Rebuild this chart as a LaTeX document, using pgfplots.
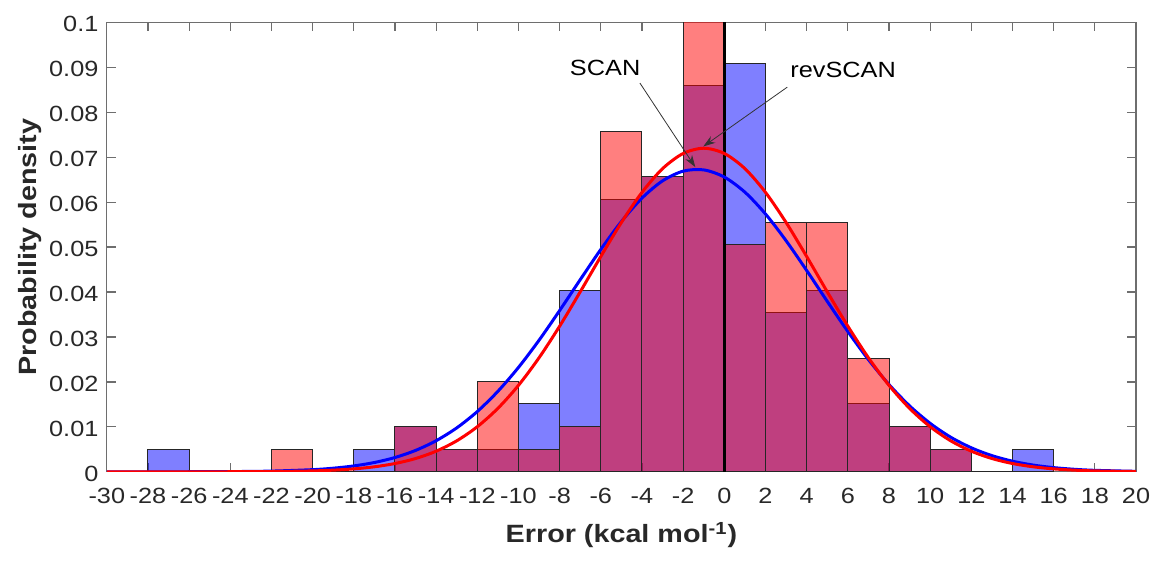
\documentclass[border=0pt]{standalone}
\usepackage{fontspec}
\setmainfont{Liberation Sans}[FakeStretch=1.15]
\usepackage{pgfplots}
\pgfplotsset{compat=1.18}
\usetikzlibrary{arrows.meta}
\definecolor{axgray}{RGB}{110,110,110}
\definecolor{txtgray}{RGB}{40,40,40}

\begin{document}
\begin{tikzpicture}
\begin{axis}[
  name=ax,
  scale only axis,
  width=514.6pt, height=224.7pt,
  xmin=-30, xmax=20, ymin=0, ymax=0.1,
  xtick={-30,-28,-26,-24,-22,-20,-18,-16,-14,-12,-10,-8,-6,-4,-2,0,2,4,6,8,10,12,14,16,18,20},
  xticklabels={-30,-28,-26,-24,-22,-20,-18,-16,-14,-12,-10,-8,-6,-4,-2,0,2,4,6,8,10,12,14,16,18,20},
  ytick={0,0.01,0.02,0.03,0.04,0.05,0.06,0.07,0.08,0.09,0.1},
  yticklabels={0,0.01,0.02,0.03,0.04,0.05,0.06,0.07,0.08,0.09,0.1},
  tick align=inside,
  major tick length=4.5pt,
  axis line style={axgray, line width=0.6pt},
  tick style={axgray, line width=0.6pt},
  ticklabel style={font=\fontsize{11}{13}\selectfont, text=txtgray, inner sep=0.5pt},
  xticklabel style={yshift=-7.5pt},
  yticklabel style={xshift=-3.5pt, yshift=-1pt},
  xlabel={Error (kcal mol\textsuperscript{-1})},
  ylabel={Probability density},
  label style={font=\fontsize{12.5}{15}\selectfont\bfseries, text=txtgray},
  xlabel style={at={(axis description cs:0.5,-0.141)}, anchor=center},
  ylabel style={at={(axis description cs:-0.0744,0.5)}, anchor=center},
]
% SCAN histogram (bin width 2, N = 99)
\addplot[ybar interval, fill=blue, fill opacity=0.5, draw=black!85, line width=0.5pt] coordinates {
  (-28,0.00505) (-26,0) (-24,0) (-22,0) (-20,0) (-18,0.00505) (-16,0.0101)
  (-14,0.00505) (-12,0.00505) (-10,0.01515) (-8,0.0404) (-6,0.06061)
  (-4,0.06566) (-2,0.08586) (0,0.09091) (2,0.03535) (4,0.0404) (6,0.01515)
  (8,0.0101) (10,0.00505) (12,0) (14,0.00505) (16,0)
};
% revSCAN histogram
\addplot[ybar interval, fill=red, fill opacity=0.5, draw=black!85, line width=0.5pt] coordinates {
  (-22,0.00505) (-20,0) (-18,0) (-16,0.0101) (-14,0.00505) (-12,0.0202)
  (-10,0.00505) (-8,0.0101) (-6,0.07576) (-4,0.06566) (-2,0.10101)
  (0,0.0505) (2,0.05556) (4,0.05556) (6,0.02525) (8,0.0101) (10,0.00505) (12,0)
};
% zero line
\addplot[black, line width=1.6pt] coordinates {(0,0) (0,0.1)};
% SCAN normal fit
\addplot[blue, line width=1.5pt, smooth] coordinates {
  (-30,0.0000006) (-26,0.0000119) (-24,0.000046) (-22,0.000157) (-20,0.000479)
  (-19,0.000803) (-18,0.001306) (-17,0.002069) (-16,0.003181) (-15,0.004759)
  (-14,0.006918) (-13,0.00977) (-12,0.01341) (-11,0.01791) (-10,0.02323)
  (-9,0.02928) (-8,0.03589) (-7,0.04275) (-6,0.04949) (-5,0.05569)
  (-4,0.06091) (-3,0.06474) (-2,0.0669) (-1,0.06718) (0,0.06558)
  (1,0.06222) (2,0.05737) (3,0.05142) (4,0.0448) (5,0.03793)
  (6,0.03122) (7,0.02497) (8,0.01942) (9,0.01467) (10,0.01078)
  (11,0.00769) (12,0.00534) (13,0.0036) (14,0.00236) (15,0.0015)
  (16,0.000931) (17,0.000561) (18,0.000328) (20,0.000103)
};
% revSCAN normal fit
\addplot[red, line width=1.5pt, smooth] coordinates {
  (-30,0.0000001) (-26,0.0000027) (-24,0.000013) (-22,0.000055) (-20,0.0002)
  (-19,0.000367) (-18,0.000649) (-17,0.001112) (-16,0.001842) (-15,0.002956)
  (-14,0.004587) (-13,0.006893) (-12,0.01003) (-11,0.01412) (-10,0.01924)
  (-9,0.02538) (-8,0.03241) (-7,0.04005) (-6,0.04791) (-5,0.05548)
  (-4,0.06218) (-3,0.06746) (-2,0.07083) (-1,0.072) (0,0.07083)
  (1,0.06746) (2,0.06218) (3,0.05548) (4,0.04791) (5,0.04005)
  (6,0.03241) (7,0.02538) (8,0.01924) (9,0.01412) (10,0.01003)
  (11,0.006893) (12,0.004587) (13,0.002956) (14,0.001842) (15,0.001112)
  (16,0.000649) (17,0.000367) (18,0.0002) (20,0.000055)
};
% annotations
\draw[black!80, line width=0.4pt, -{Stealth[length=6pt, width=4pt]}] (axis cs:-4.1,0.0865) -- (axis cs:-1.41,0.0678);
\draw[black!80, line width=0.4pt, -{Stealth[length=6pt, width=4pt]}] (axis cs:3.06,0.0856) -- (axis cs:-1.02,0.0724);
\node[font=\fontsize{11}{13}\selectfont, text=black] at (axis cs:-5.79,0.0898) {SCAN};
\node[font=\fontsize{11}{13}\selectfont, text=black] at (axis cs:5.77,0.0894) {revSCAN};
\end{axis}
\pgfresetboundingbox
\path[use as bounding box] ([xshift=-53.4pt,yshift=-47.2pt]ax.south west) rectangle ([xshift=8.5pt,yshift=11.2pt]ax.north east);
\end{tikzpicture}
\end{document}
